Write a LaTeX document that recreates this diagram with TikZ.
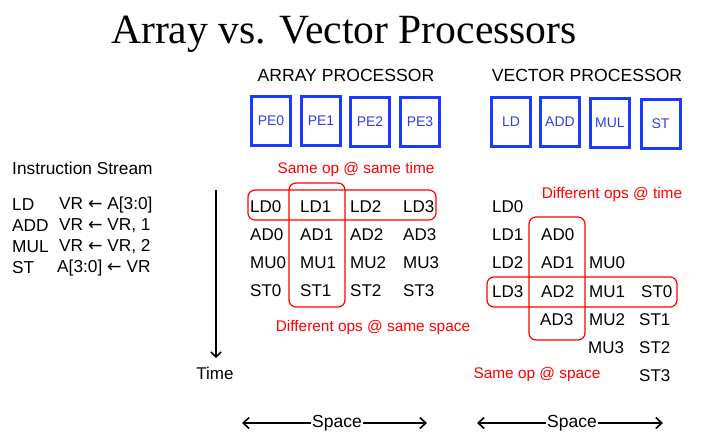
\documentclass[tikz,border=0pt]{standalone}
\usepackage{fontspec}
\setmainfont{Liberation Sans}
\newfontfamily\titlefont{Liberation Serif}
\newfontfamily\symfont{DejaVu Sans}
\usetikzlibrary{arrows.meta}
\definecolor{unitblue}{RGB}{28,58,255}
\definecolor{unittext}{RGB}{50,60,230}
\newcommand{\larr}{{\symfont\char"2190}}

\begin{document}
\begin{tikzpicture}[x=1pt,y=-1pt,
  unit/.style={draw=unitblue, line width=3pt, minimum width=39pt, minimum height=49pt,
    inner sep=0pt, text=unittext, font=\fontsize{14}{16}\selectfont},
  op/.style={anchor=west, inner sep=0pt, font=\fontsize{17}{20}\selectfont},
  instr/.style={anchor=west, inner sep=0pt, font=\fontsize{17.3}{20}\selectfont},
  head/.style={inner sep=0pt, font=\fontsize{17.6}{20}\selectfont},
  note/.style={inner sep=0pt, text=red, font=\fontsize{15.4}{17}\selectfont},
  grp/.style={draw=red, line width=1.2pt, rounded corners=7pt},
  axis/.style={line width=1.6pt, {Straight Barb[length=6pt,width=11pt]}-{Straight Barb[length=6pt,width=11pt]}},
  axislbl/.style={fill=white, inner sep=1pt, font=\fontsize{17.5}{20}\selectfont}
]
\useasboundingbox (0,0) rectangle (724,447);

% title
\node[anchor=base, inner sep=0pt, font=\titlefont\fontsize{41.6}{48}\selectfont] (title) at (344,43) {Array vs. Vector Processors};

% headers
\node[head] (arrhead) at (346,75) {ARRAY PROCESSOR};
\node[head] (vechead) at (587,75) {VECTOR PROCESSOR};

% processing units
\node[unit] (pe0) at (271,121) {PE0};
\node[unit] (pe1) at (321,121) {PE1};
\node[unit] (pe2) at (370,122) {PE2};
\node[unit] (pe3) at (420,122) {PE3};
\node[unit] (uld)  at (511,122) {LD};
\node[unit] (uadd) at (560,122) {ADD};
\node[unit] (umul) at (610,123) {MUL};
\node[unit] (ust)  at (660.5,124) {ST};

% instruction stream
\node[instr] (isl) at (12,168) {Instruction Stream};
\node[instr] (i1a) at (12,205) {LD};
\node[instr] (i1b) at (59,205) {VR \larr\ A[3:0]};
\node[instr] (i2a) at (12,226) {ADD};
\node[instr] (i2b) at (59,226) {VR \larr\ VR, 1};
\node[instr] (i3a) at (12,247) {MUL};
\node[instr] (i3b) at (59,247) {VR \larr\ VR, 2};
\node[instr] (i4a) at (12,268) {ST};
\node[instr] (i4b) at (57,268) {A[3:0] \larr\ VR};

% time axis
\coordinate (ttop) at (216,190);
\node[inner sep=0pt, font=\fontsize{17}{20}\selectfont] (time) at (215,373) {Time};
\draw[line width=1.5pt, -{Straight Barb[length=5pt,width=10pt]}] (ttop) -- (216,358);

% array processor schedule
\node[op] (ald0) at (250,207) {LD0};
\node[op] (ald1) at (300,207) {LD1};
\node[op] (ald2) at (350,207) {LD2};
\node[op] (ald3) at (403,207) {LD3};
\node[op] (aad0) at (250,235) {AD0};
\node[op] (aad1) at (300,235) {AD1};
\node[op] (aad2) at (350,235) {AD2};
\node[op] (aad3) at (403,235) {AD3};
\node[op] (amu0) at (250,263) {MU0};
\node[op] (amu1) at (300,263) {MU1};
\node[op] (amu2) at (350,263) {MU2};
\node[op] (amu3) at (403,263) {MU3};
\node[op] (ast0) at (250,291) {ST0};
\node[op] (ast1) at (300,291) {ST1};
\node[op] (ast2) at (350,291) {ST2};
\node[op] (ast3) at (403,291) {ST3};

\draw[grp] (248,190) rectangle (436,220);
\draw[grp] (289,183) rectangle (345,307);
\node[note] (asame) at (356,170) {Same op @ same time};
\node[note] (adiff) at (373,328) {Different ops @ same space};

% vector processor schedule
\node[op] (vld0) at (492,207) {LD0};
\node[op] (vld1) at (492,235) {LD1};
\node[op] (vld2) at (492,263) {LD2};
\node[op] (vld3) at (492,292) {LD3};
\node[op] (vad0) at (541,235) {AD0};
\node[op] (vad1) at (541,263) {AD1};
\node[op] (vad2) at (541,292) {AD2};
\node[op] (vad3) at (540,320) {AD3};
\node[op] (vmu0) at (589,263) {MU0};
\node[op] (vmu1) at (589,292) {MU1};
\node[op] (vmu2) at (589,320) {MU2};
\node[op] (vmu3) at (588,348) {MU3};
\node[op] (vst0) at (641,292) {ST0};
\node[op] (vst1) at (639,320) {ST1};
\node[op] (vst2) at (639,348) {ST2};
\node[op] (vst3) at (639,376) {ST3};

\draw[grp] (529,217) rectangle (585,340);
\draw[grp] (487,277) rectangle (677,307);
\node[note] (vdiff) at (612,195) {Different ops @ time};
\node[note] (vsame) at (537,375) {Same op @ space};

% space axes
\coordinate (s1l) at (242,423);
\coordinate (s1r) at (427,423);
\coordinate (s2l) at (477,423);
\coordinate (s2r) at (663,423);
\draw[axis] (s1l) -- (s1r);
\node[axislbl] (space1) at (337,423) {Space};
\draw[axis] (s2l) -- (s2r);
\node[axislbl] (space2) at (572,423) {Space};
\end{tikzpicture}
\end{document}
